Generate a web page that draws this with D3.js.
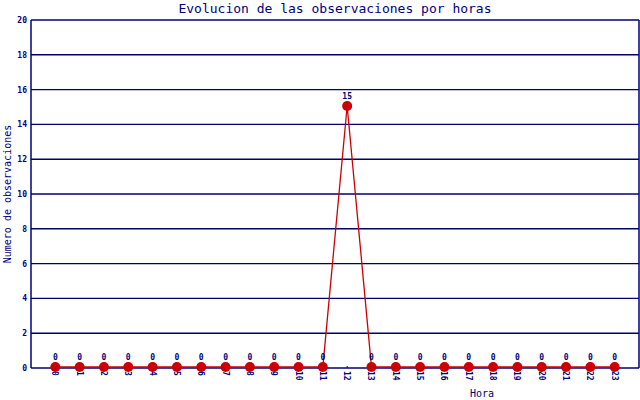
<!DOCTYPE html>
<html lang=es>
<head>
<meta charset='utf-8'>
<script src="https://d3js.org/d3.v7.min.js"></script>
<style>
  body { margin: 0; background: #fff; }
  text { font-family: "DejaVu Sans Mono", monospace; fill: #000080; }
</style>
</head>
<body>
<div id="chart"></div>
<script>
// data
var horas = ["0","1","2","3","4","5","6","7","8","9","10","11","12","13","14","15","16","17","18","19","20","21","22","23"];
var observaciones = [0,0,0,0,0,0,0,0,0,0,0,0,15,0,0,0,0,0,0,0,0,0,0,0];
var yTicks = [0,2,4,6,8,10,12,14,16,18,20];

var W = 640, H = 400;
var margin = {top: 20, right: 1, bottom: 32, left: 31};
var width = W - margin.left - margin.right,
    height = H - margin.top - margin.bottom;

var svg = d3.select("#chart").append("svg")
    .attr("width", W).attr("height", H);

var g = svg.append("g")
    .attr("transform", "translate(" + margin.left + "," + margin.top + ")");

var x = d3.scalePoint().domain(horas).range([0, width]).padding(1);
var y = d3.scaleLinear().domain([0, 20]).range([height, 0]);

// title
svg.append("text")
    .attr("x", 335).attr("y", 13)
    .attr("text-anchor", "middle")
    .style("font-size", "13px")
    .text("Evolucion de las observaciones por horas");

// grid lines
g.selectAll(".grid").data(yTicks).enter().append("line")
    .attr("x1", 0).attr("x2", width)
    .attr("y1", function(d) { return y(d); })
    .attr("y2", function(d) { return y(d); })
    .attr("stroke", "#000070")
    .attr("stroke-width", 1.4);

// frame: left axis and right border
g.append("line").attr("x1", 0).attr("x2", 0).attr("y1", 0).attr("y2", height)
    .attr("stroke", "#000080").attr("stroke-width", 1.5);
g.append("line").attr("x1", width).attr("x2", width).attr("y1", 0).attr("y2", height)
    .attr("stroke", "#000080").attr("stroke-width", 1.5);

// y tick labels
g.selectAll(".ylab").data(yTicks).enter().append("text")
    .attr("x", -4)
    .attr("y", function(d) { return y(d) + 3; })
    .attr("text-anchor", "end")
    .style("font-size", "8px")
    .style("font-weight", "bold")
    .text(function(d) { return d; });

// x ticks (small, pointing up) and rotated labels
g.selectAll(".xtick").data(horas).enter().append("line")
    .attr("x1", function(d) { return x(d); })
    .attr("x2", function(d) { return x(d); })
    .attr("y1", height).attr("y2", height - 2)
    .attr("stroke", "#000080");

g.selectAll(".xlab").data(horas).enter().append("text")
    .attr("transform", function(d) {
        return "translate(" + (x(d) - 3) + "," + (height + 3) + ") rotate(90)";
    })
    .attr("text-anchor", "start")
    .style("font-size", "8px")
    .style("font-weight", "bold")
    .text(function(d) { return d; });

// axis titles
svg.append("text")
    .attr("transform", "translate(11," + (margin.top + height / 2) + ") rotate(-90)")
    .attr("text-anchor", "middle")
    .style("font-size", "10px")
    .text("Numero de observaciones");

svg.append("text")
    .attr("x", 482).attr("y", 397)
    .attr("text-anchor", "middle")
    .style("font-size", "10px")
    .text("Hora");

// line
var line = d3.line()
    .x(function(d, i) { return x(horas[i]); })
    .y(function(d) { return y(d) - 1; });

g.append("path")
    .datum(observaciones)
    .attr("d", line)
    .attr("fill", "none")
    .attr("stroke", "#cc0000")
    .attr("stroke-width", 1.3);

// markers
g.selectAll(".pt").data(observaciones).enter().append("circle")
    .attr("cx", function(d, i) { return x(horas[i]); })
    .attr("cy", function(d) { return y(d) - 1; })
    .attr("r", 5)
    .attr("fill", "#cc0000");

// value labels
g.selectAll(".val").data(observaciones).enter().append("text")
    .attr("x", function(d, i) { return x(horas[i]); })
    .attr("y", function(d) { return y(d) - 8; })
    .attr("text-anchor", "middle")
    .style("font-size", "8px")
    .style("font-weight", "bold")
    .text(function(d) { return d; });
</script>
</body>
</html>
